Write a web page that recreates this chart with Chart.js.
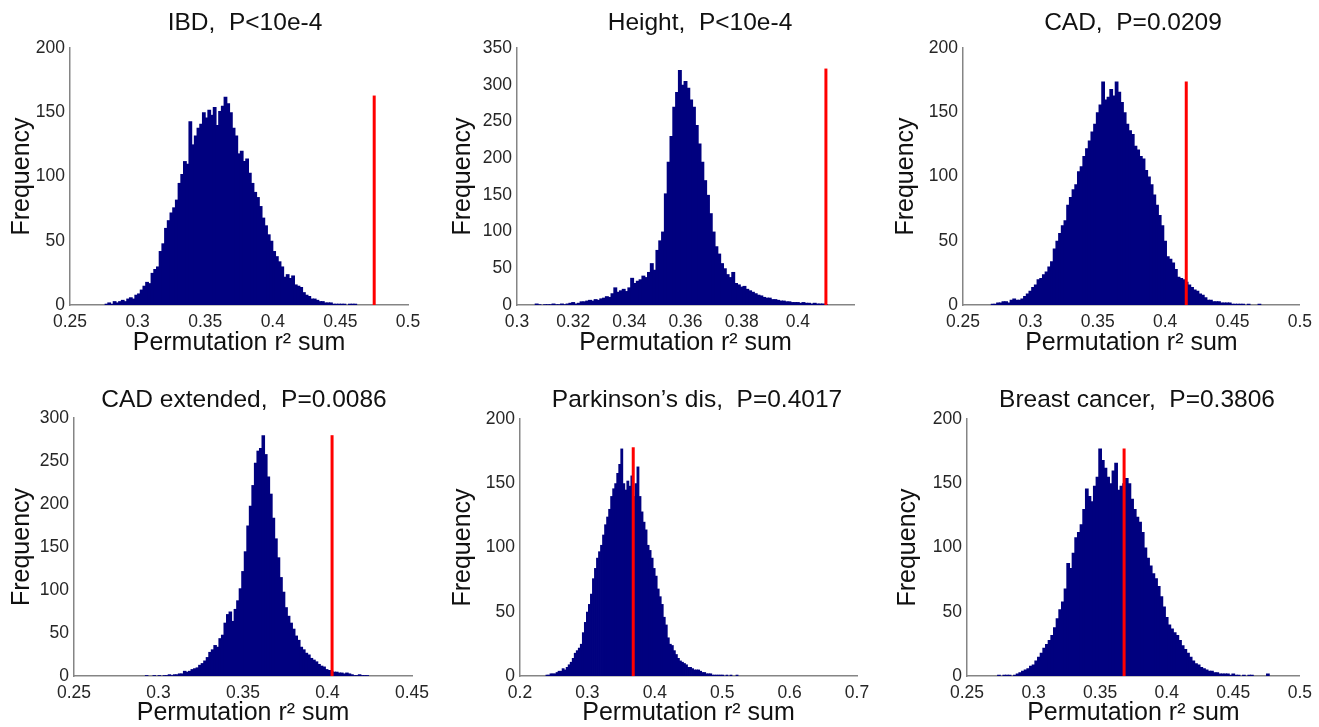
<!DOCTYPE html>
<html>
<head>
<meta charset="utf-8">
<script src="https://cdn.jsdelivr.net/npm/chart.js@4"></script>
<style>
body { margin: 0; background: #fff; width: 1319px; height: 727px; position: relative; overflow: hidden; }
canvas { position: absolute; }
</style>
</head>
<body>
<script>
	// ---- data ----
	var titles = ['IBD,  P<10e-4', 'Height,  P<10e-4', 'CAD,  P=0.0209',
		'CAD extended,  P=0.0086', 'Parkinson\u2019s dis,  P=0.4017', 'Breast cancer,  P=0.3806'];

	// centre of the first bin and bin width for each panel
	var binStart = [0.277, 0.307, 0.272, 0.293, 0.240, 0.274];
	var binWidth = [0.002, 0.001, 0.002, 0.0015, 0.003, 0.002];

	// observed r2 sum (red line) and its height
	var observed = [0.475, 0.410, 0.4157, 0.4027, 0.368, 0.368];
	var observedTop = [163, 322, 174, 280, 178, 177];

	// axis ranges / tick steps
	var xMin = [0.25, 0.3, 0.25, 0.25, 0.2, 0.25];
	var xMax = [0.5, 0.42, 0.5, 0.45, 0.7, 0.5];
	var xStep = [0.05, 0.02, 0.05, 0.05, 0.1, 0.05];
	var xLabelMax = [0.5, 0.4, 0.5, 0.45, 0.7, 0.5];
	var yMax = [200, 350, 200, 300, 200, 200];

	var ibdCounts = [1,2,1,3,2,3,4,3,5,6, 5,8,9,12,15,18,17,25,28,30, 42,48,60,66,72,76,82,95,102,112,
		110,143,125,132,138,141,150,146,152,148, 154,140,151,155,162,157,150,138,132,118,
		120,112,114,103,95,88,84,77,68,62, 55,50,42,38,34,30,22,24,21,23, 16,15,14,10,8,7,5,5,4,3,
		3,2,2,2,1,1,1,1,1,0, 1,1,1];

	var heightCounts = [2,1,0,1,1,1,2,1,1,2, 1,2,3,4,2,3,5,5,6,7, 6,8,7,9,10,12,11,16,24,18,
		20,22,19,24,37,30,33,35,40,38, 45,57,48,75,88,100,152,195,230,270,
		290,320,300,305,296,280,270,245,220,195, 170,150,125,100,80,70,57,50,42,38,
		45,30,28,25,26,22,20,18,16,14, 13,11,10,10,8,8,7,6,6,5, 5,4,4,4,3,4,3,3,2,3, 2,2,2,1];

	var cadCounts = [1,1,2,2,3,3,2,4,5,4, 4,5,7,9,11,14,16,20,21,24, 26,30,34,44,50,56,62,66,78,84,
		90,94,104,108,116,122,128,135,141,150, 156,174,160,162,168,163,174,166,158,150,
		141,136,133,124,121,116,114,105,100,94, 86,78,70,62,50,38,36,33,28,22,
		21,20,18,16,14,12,11,9,8,6, 4,4,3,3,3,2,2,2,2,1, 1,1,1,1,0,1,0,0,0,1];

	var cadExtCounts = [1,0,0,1,0,1,0,1,1,2, 1,2,2,3,3,6,5,6,8,9, 10,13,15,18,22,28,31,36,34,44,
		48,62,72,75,64,78,88,102,122,145, 175,198,222,248,262,265,280,258,232,212,
		184,160,138,115,98,80,70,62,55,47, 42,34,31,27,25,21,19,17,14,12,
		11,8,7,6,5,5,4,4,3,4, 3,2,1,1,2,1,1,1];

	var parkCounts = [1,1,2,2,2,3,4,4,6,5, 7,9,11,14,18,20,22,25,34,42, 50,56,64,76,84,92,97,102,110,118,
		124,130,140,146,150,158,165,177,150,145, 152,148,156,140,150,163,140,128,120,114,
		102,98,92,84,78,68,62,56,46,40, 30,25,24,20,17,14,12,11,10,9, 7,7,6,5,5,5,4,3,3,2,
		2,2,1,1,1,1,1,1,0,1, 0,1,0,0,1];

	var breastCounts = [1,0,1,1,1,0,1,2,3,4, 5,6,8,9,12,15,18,22,25,28, 32,38,45,52,58,68,88,84,96,108,
		112,118,130,146,140,136,148,155,177,168, 162,155,150,160,166,145,148,150,154,150,
		138,130,124,120,112,100,92,86,80,76, 70,62,54,46,40,37,34,32,28,24,
		21,18,15,12,10,9,7,6,5,4, 4,3,3,2,2,2,2,1,2,1, 1,0,1,0,1,1,0,0,0,0, 0,2];

	var countsList = [ibdCounts, heightCounts, cadCounts, cadExtCounts, parkCounts, breastCounts];

	// ---- page layout (pixels) ----
	// yw: y axis box width, xh: x axis box height, pt/pr: padding top/right,
	// tx/ty: title centre, yt: y title offset, xb: x title bottom padding
	var layout = [
		{left: 0,   top: 0,   w: 440, h: 360, yw: 70, xh: 55, pt: 48, pr: 32, tx: 245, ty: 23.5, yt: 7,  xb: 2},
		{left: 440, top: 0,   w: 440, h: 360, yw: 77, xh: 55, pt: 48, pr: 26, tx: 260, ty: 23.5, yt: 8,  xb: 2},
		{left: 880, top: 0,   w: 439, h: 360, yw: 83, xh: 55, pt: 48, pr: 18, tx: 253, ty: 23.5, yt: 11, xb: 2},
		{left: 0,   top: 360, w: 440, h: 367, yw: 74, xh: 51, pt: 58, pr: 28, tx: 244, ty: 40,   yt: 7,  xb: -1},
		{left: 440, top: 360, w: 440, h: 367, yw: 80, xh: 51, pt: 59, pr: 23, tx: 257, ty: 40,   yt: 8,  xb: -1},
		{left: 880, top: 360, w: 439, h: 367, yw: 87, xh: 51, pt: 59, pr: 16, tx: 257, ty: 40,   yt: 13, xb: -1}
	];

	var barColor = '#00007f';
	var axisColor = '#858585';
	var textColor = '#262626';

	Chart.defaults.font.family = '"Liberation Sans", Arial, Helvetica, sans-serif';
	Chart.defaults.color = textColor;

	var panelTitle = {
		id: 'panelTitle',
		afterDraw: function(chart, args, opts) {
			var ctx = chart.ctx;
			ctx.save();
			ctx.font = '24.5px "Liberation Sans", Arial, sans-serif';
			ctx.fillStyle = '#111';
			ctx.textAlign = 'center';
			ctx.textBaseline = 'middle';
			ctx.fillText(opts.text, opts.x, opts.y);
			ctx.restore();
		}
	};

	var tickLabel = function(v) {
		return String(Math.round(v * 1000) / 1000);
	};

	var makePanel = function(p) {
		var L = layout[p];
		var canvas = document.createElement('canvas');
		canvas.width = L.w;
		canvas.height = L.h;
		canvas.style.left = L.left + 'px';
		canvas.style.top = L.top + 'px';
		document.body.appendChild(canvas);

		var bars = [];
		for (var i = 0; i < countsList[p].length; i++) {
			bars.push({x: binStart[p] + i * binWidth[p], y: countsList[p][i]});
		}

		new Chart(canvas.getContext('2d'), {
			type: 'bar',
			data: {
				datasets: [{
					type: 'bar',
					data: bars,
					backgroundColor: barColor,
					borderWidth: 0,
					barPercentage: 1.4,
					categoryPercentage: 1,
					order: 2
				}, {
					type: 'line',
					data: [{x: observed[p], y: 0}, {x: observed[p], y: observedTop[p]}],
					borderColor: '#ff0000',
					borderWidth: 3,
					pointRadius: 0,
					fill: false,
					order: 1
				}]
			},
			options: {
				responsive: false,
				animation: false,
				events: [],
				layout: {padding: {top: L.pt, right: L.pr, left: 0, bottom: 0}},
				plugins: {
					legend: {display: false},
					tooltip: {enabled: false},
					title: {display: false},
					panelTitle: {text: titles[p], x: L.tx, y: L.ty}
				},
				scales: {
					x: {
						type: 'linear',
						offset: false,
						min: xMin[p],
						max: xMax[p],
						grid: {display: false, drawTicks: false},
						border: {display: true, color: axisColor, width: 1.5},
						ticks: {
							stepSize: xStep[p],
							padding: 7,
							maxRotation: 0,
							autoSkip: false,
							font: {size: 17.5},
							color: textColor,
							callback: function(v) { return v > xLabelMax[p] + 1e-9 ? '' : tickLabel(v); }
						},
						title: {display: true, text: 'Permutation r\u00b2 sum', font: {size: 25}, color: '#111', padding: {top: 0, bottom: L.xb}},
						afterFit: function(scale) { scale.height = L.xh; }
					},
					y: {
						min: 0,
						max: yMax[p],
						grid: {display: false, drawTicks: false},
						border: {display: true, color: axisColor, width: 1.5},
						ticks: {stepSize: 50, padding: 5, font: {size: 17.5}, color: textColor},
						title: {display: true, text: 'Frequency', font: {size: 25}, color: '#111', padding: {top: L.yt, bottom: 0}},
						afterFit: function(scale) { scale.width = L.yw; }
					}
				}
			},
			plugins: [panelTitle]
		});
	};

	for (var p = 0; p < countsList.length; p++) {
		makePanel(p);
	}
</script>
</body>
</html>
